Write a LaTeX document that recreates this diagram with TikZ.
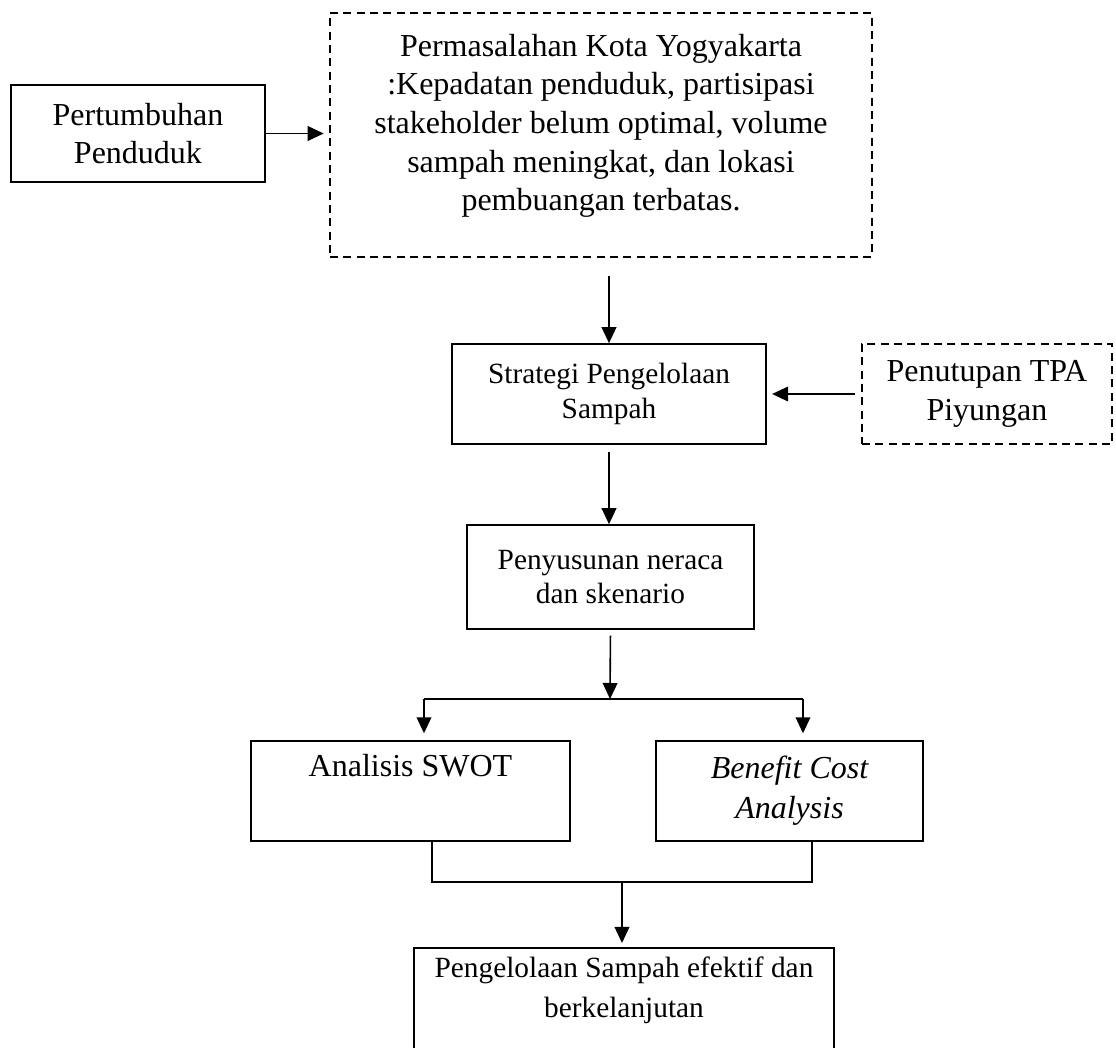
\documentclass[tikz,border=0pt]{standalone}
\usepackage{fontspec}
\setmainfont{Liberation Serif}
\usetikzlibrary{arrows.meta, positioning}
\tikzset{
    box/.style={rectangle, draw, line width=0.6pt, align=center, inner sep=0pt},
    dashbox/.style={box, dash pattern=on 3pt off 2pt, line width=0.7pt},
    bigtext/.style={font=\fontsize{12}{14.5}\selectfont},
    smalltext/.style={font=\fontsize{11}{13}\selectfont},
    arrow/.style={-{Triangle[length=6pt, width=5.5pt]}, line width=0.6pt}
}

\begin{document}
\begin{tikzpicture}[x=0.375pt, y=-0.375pt]
    \useasboundingbox (0,0) rectangle (1116,1048);
    \clip (0,0) rectangle (1116,1048);

    % boxes
    \node (tumbuh) [box, bigtext, minimum width=95.25pt, minimum height=36.4pt] at (138,133.5) {Pertumbuhan\\Penduduk};
    \node (masalah) [dashbox, minimum width=203.25pt, minimum height=91.5pt] at (601,135) {};
    \node (masalahtext) [bigtext, align=center, inner sep=0pt] at (601,126) {Permasalahan Kota Yogyakarta\\:Kepadatan penduduk, partisipasi\\stakeholder belum optimal, volume\\sampah meningkat, dan lokasi\\pembuangan terbatas.};
    \node (strategi) [box, smalltext, minimum width=117.75pt, minimum height=37.5pt] at (609,394) {Strategi Pengelolaan\\Sampah};
    \node (tpa) [dashbox, bigtext, minimum width=93.75pt, minimum height=37.5pt] at (987,394) {Penutupan TPA\\Piyungan};
    \node (neraca) [box, smalltext, minimum width=107.6pt, minimum height=39pt] at (610.5,577) {Penyusunan neraca\\dan skenario};
    \node (swot) [box, font=\fontsize{12}{15}\selectfont, minimum width=119.6pt, minimum height=37.5pt] at (410.5,791) {Analisis SWOT\\\strut};
    \node (bca) [box, font=\fontsize{12}{15}\selectfont\itshape, minimum width=100.1pt, minimum height=37.5pt] at (789.5,791) {Benefit Cost\\Analysis};
    \node (hasilbox) [box, anchor=north, minimum width=157.5pt, minimum height=56pt] at (624,947) {};
    \node (hasil) [smalltext, font=\fontsize{11}{15}\selectfont, align=center, inner sep=0pt] at (624,990) {Pengelolaan Sampah efektif dan\\berkelanjutan};

    % helper points
    \coordinate (split) at (610,699);
    \coordinate (splitL) at (424,699);
    \coordinate (splitR) at (803,699);
    \coordinate (join) at (622,882);
    \coordinate (joinL) at (432,882);
    \coordinate (joinR) at (812,882);

    % connectors
    \draw[arrow, shorten >=2pt] (tumbuh.east) -- (tumbuh.east -| masalah.west);
    \draw[arrow, shorten <=6.75pt] (masalah.south -| strategi.north) -- (strategi.north);
    \draw[arrow, shorten <=2.2pt, shorten >=2pt] (tpa.west) -- (strategi.east);
    \draw[arrow, shorten <=2.6pt] (strategi.south) -- (strategi.south |- neraca.north);
    \draw[arrow, shorten <=2.2pt] (neraca.south) -- (split);
    \draw[line width=0.9pt] (splitL) -- (splitR);
    \draw[arrow, shorten >=2.6pt] (splitL) -- (splitL |- swot.north);
    \draw[arrow, shorten >=2.6pt] (splitR) -- (splitR |- bca.north);
    \draw[line width=0.6pt] (joinL |- swot.south) -- (joinL) -- (joinR) -- (joinR |- bca.south);
    \draw[arrow, shorten >=1.5pt] (join) -- (join |- hasilbox.north);
\end{tikzpicture}
\end{document}
